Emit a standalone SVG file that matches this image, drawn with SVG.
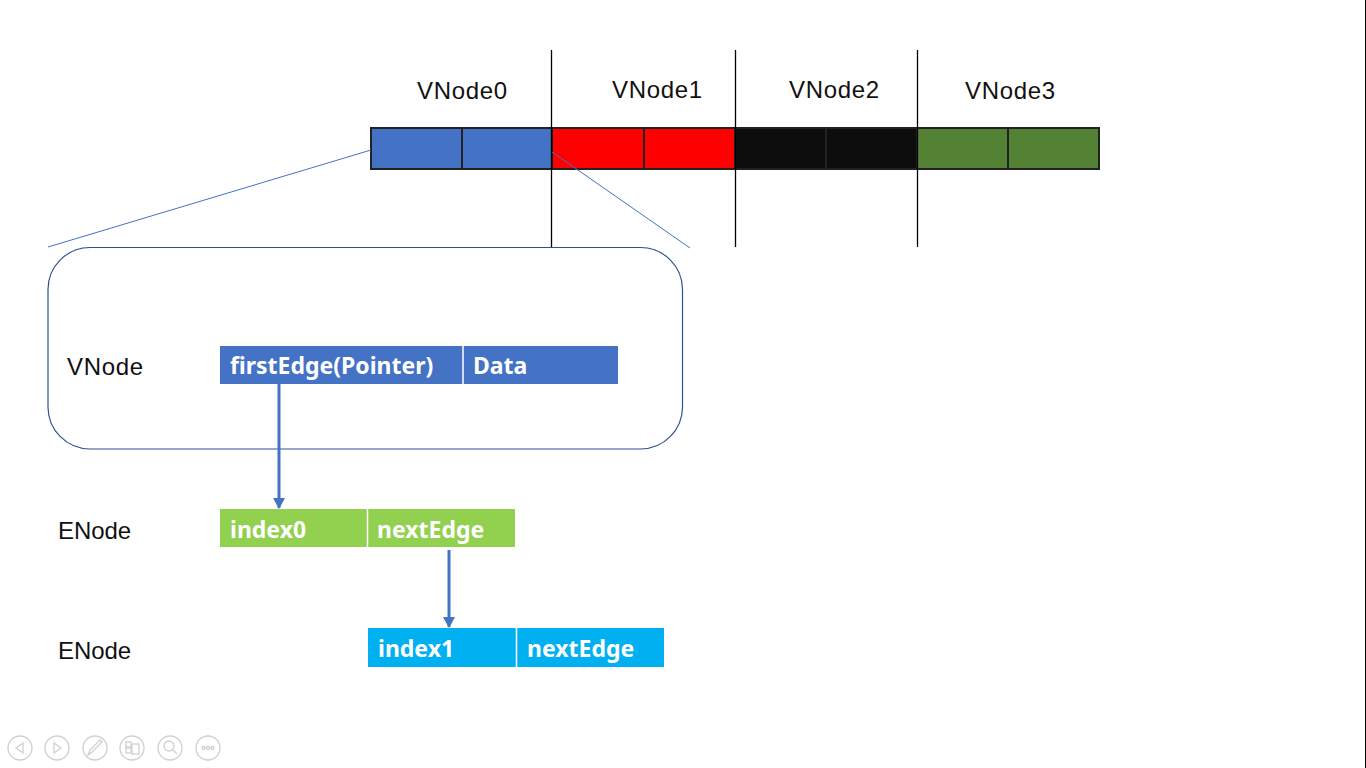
<svg xmlns="http://www.w3.org/2000/svg" width="1366" height="768" viewBox="0 0 1366 768">
<defs>
<style>
.lbl{font-family:"Liberation Sans",Arial,sans-serif;font-size:24px;fill:#111}
.in{font-family:"Noto Sans","Liberation Sans",sans-serif;font-weight:bold;font-size:23px;fill:#fff}
.cell{stroke:#222;stroke-width:2}
.sep{stroke:#000;stroke-width:1.3}
.ico{fill:none;stroke:#d0d0d0;stroke-width:1.3}
</style>
<marker id="arr" markerWidth="12" markerHeight="12" viewBox="0 0 12 12" refX="10" refY="6" orient="auto" markerUnits="userSpaceOnUse">
<path d="M0,0 L11,6 L0,12 Z" fill="#4472c4"/>
</marker>
</defs>
<rect width="1366" height="768" fill="#fff"/>
<line x1="1365.5" y1="0" x2="1365.5" y2="768" stroke="#000" stroke-width="1"/>

<g id="array">
<rect class="cell" x="371" y="128" width="91" height="41" fill="#4472c4"/>
<rect class="cell" x="462" y="128" width="90" height="41" fill="#4472c4"/>
<rect class="cell" x="552" y="128" width="92" height="41" fill="#ff0000"/>
<rect class="cell" x="644" y="128" width="91" height="41" fill="#ff0000"/>
<rect class="cell" x="735" y="128" width="91" height="41" fill="#0d0d0d"/>
<rect class="cell" x="826" y="128" width="91" height="41" fill="#0d0d0d"/>
<rect class="cell" x="917" y="128" width="91" height="41" fill="#548235"/>
<rect class="cell" x="1008" y="128" width="91" height="41" fill="#548235"/>
</g>
<g id="separators">
<line class="sep" x1="551.5" y1="50" x2="551.5" y2="247"/>
<line class="sep" x1="735.5" y1="50" x2="735.5" y2="247"/>
<line class="sep" x1="917.5" y1="50" x2="917.5" y2="247"/>
</g>
<g id="vlabels">
<text class="lbl" x="462" y="99" text-anchor="middle" textLength="90">VNode0</text>
<text class="lbl" x="657" y="98" text-anchor="middle" textLength="90">VNode1</text>
<text class="lbl" x="834" y="98" text-anchor="middle" textLength="90">VNode2</text>
<text class="lbl" x="1010" y="99" text-anchor="middle" textLength="90">VNode3</text>
</g>

<g id="zoom-lines" stroke="#4472c4" stroke-width="1" fill="none">
<line x1="371" y1="150" x2="48" y2="247"/>
<line x1="552" y1="152" x2="690" y2="248"/>
</g>

<g id="vnode-detail">
<rect x="48" y="247.5" width="634.5" height="201.5" rx="42" ry="42" fill="none" stroke="#2f528f" stroke-width="1.2"/>
<text class="lbl" x="67" y="375" textLength="76">VNode</text>
<rect x="220" y="346" width="243" height="38" fill="#4472c4"/>
<rect x="463" y="346" width="155" height="38" fill="#4472c4"/>
<line x1="463" y1="346" x2="463" y2="384" stroke="#fff" stroke-width="1.5"/>
<text class="in" x="230" y="374">firstEdge(Pointer)</text>
<text class="in" x="473" y="374">Data</text>
</g>

<g id="enode0">
<text class="lbl" x="58" y="539" textLength="73">ENode</text>
<rect x="220" y="509" width="147" height="38" fill="#92d050"/>
<rect x="367" y="509" width="148" height="38" fill="#92d050"/>
<line x1="367.5" y1="509" x2="367.5" y2="547" stroke="#fff" stroke-width="1.5"/>
<text class="in" x="230" y="538">index0</text>
<text class="in" x="377" y="538">nextEdge</text>
</g>

<g id="enode1">
<text class="lbl" x="58" y="659" textLength="73">ENode</text>
<rect x="368" y="628" width="148" height="39" fill="#00b0f0"/>
<rect x="516" y="628" width="148" height="39" fill="#00b0f0"/>
<line x1="516.5" y1="628" x2="516.5" y2="667" stroke="#fff" stroke-width="1.5"/>
<text class="in" x="378" y="657">index1</text>
<text class="in" x="527" y="657">nextEdge</text>
</g>

<g id="connectors" stroke="#4472c4" stroke-width="3" fill="none">
<line x1="279" y1="384" x2="279" y2="508" marker-end="url(#arr)"/>
<line x1="449" y1="550" x2="449" y2="627" marker-end="url(#arr)"/>
</g>

<g id="toolbar">
<circle class="ico" cx="20" cy="748" r="12"/>
<path class="ico" d="M23,743 L16,748 L23,753 Z"/>
<circle class="ico" cx="57" cy="748" r="12"/>
<path class="ico" d="M54,743 L61,748 L54,753 Z"/>
<circle class="ico" cx="95" cy="748" r="12"/>
<path class="ico" d="M88,755 L90,750 L100,740 L102,742 L92,752 Z"/>
<circle class="ico" cx="132" cy="748" r="12"/>
<rect class="ico" x="126" y="742" width="5" height="5"/>
<rect class="ico" x="126" y="748" width="5" height="5"/>
<rect class="ico" x="132" y="744" width="7" height="10"/>
<circle class="ico" cx="170" cy="748" r="12"/>
<circle class="ico" cx="169" cy="746" r="5"/>
<line class="ico" x1="172.5" y1="749.5" x2="177" y2="754"/>
<circle class="ico" cx="208" cy="748" r="12"/>
<circle class="ico" cx="203.5" cy="748" r="1.5"/>
<circle class="ico" cx="208" cy="748" r="1.5"/>
<circle class="ico" cx="212.5" cy="748" r="1.5"/>
</g>
</svg>
